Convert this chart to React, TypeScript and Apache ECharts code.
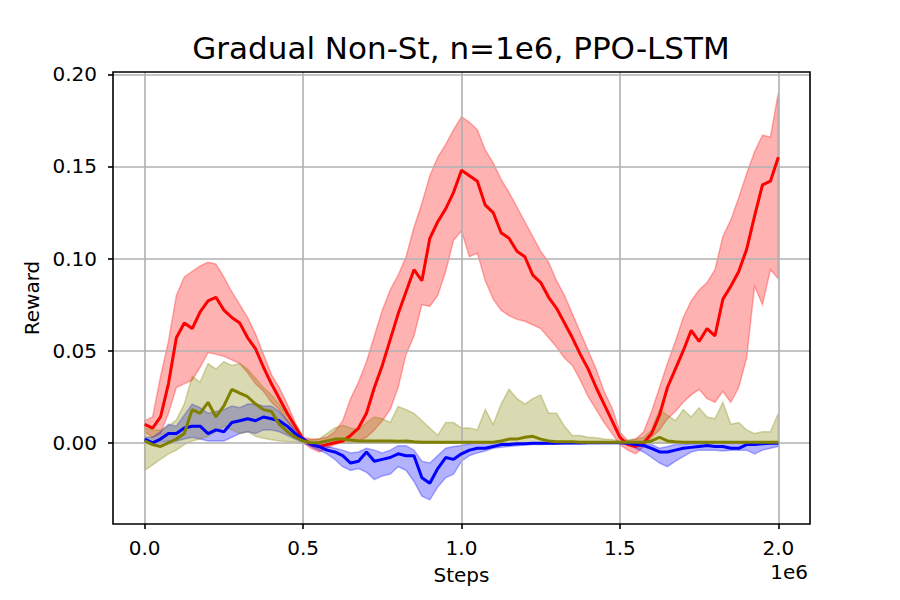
import React, { useEffect, useRef } from 'react';
import * as echarts from 'echarts';

// x positions (in units of 1e6 steps)
const X = [
  0, 0.025, 0.05, 0.075, 0.1, 0.125, 0.15, 0.175, 0.2, 0.225,
  0.25, 0.275, 0.3, 0.325, 0.35, 0.375, 0.4, 0.425, 0.45, 0.475,
  0.5, 0.525, 0.55, 0.575, 0.6, 0.625, 0.65, 0.675, 0.7, 0.725,
  0.75, 0.775, 0.8, 0.825, 0.85, 0.875, 0.9, 0.925, 0.95, 0.975,
  1.0, 1.025, 1.05, 1.075, 1.1, 1.125, 1.15, 1.175, 1.2, 1.225,
  1.25, 1.275, 1.3, 1.325, 1.35, 1.375, 1.4, 1.425, 1.45, 1.475,
  1.5, 1.525, 1.55, 1.575, 1.6, 1.625, 1.65, 1.675, 1.7, 1.725,
  1.75, 1.775, 1.8, 1.825, 1.85, 1.875, 1.9, 1.925, 1.95, 1.975,
  2.0,
];

// red method: mean, upper, lower
const RED_MEAN = [
  0.010, 0.008, 0.014, 0.032, 0.057, 0.065, 0.062, 0.071, 0.077, 0.079,
  0.072, 0.068, 0.065, 0.057, 0.051, 0.041, 0.032, 0.024, 0.016, 0.009,
  0.002, -0.001, -0.002, -0.001, 0.000, 0.001, 0.004, 0.008, 0.016, 0.030,
  0.042, 0.056, 0.070, 0.082, 0.094, 0.088, 0.111, 0.120, 0.127, 0.136,
  0.148, 0.145, 0.142, 0.129, 0.125, 0.114, 0.111, 0.104, 0.101, 0.091,
  0.087, 0.079, 0.073, 0.065, 0.057, 0.048, 0.040, 0.030, 0.021, 0.012,
  0.003, -0.001, -0.002, 0.000, 0.005, 0.015, 0.030, 0.040, 0.050, 0.061,
  0.055, 0.062, 0.058, 0.078, 0.085, 0.093, 0.105, 0.123, 0.140, 0.142,
  0.155,
];
const RED_UPPER = [
  0.012, 0.014, 0.036, 0.055, 0.080, 0.090, 0.093, 0.096, 0.098, 0.097,
  0.090, 0.082, 0.075, 0.068, 0.059, 0.048, 0.037, 0.030, 0.021, 0.011,
  0.003, 0.002, 0.002, 0.003, 0.006, 0.012, 0.024, 0.033, 0.044, 0.058,
  0.072, 0.083, 0.091, 0.101, 0.117, 0.130, 0.145, 0.155, 0.162, 0.170,
  0.177, 0.174, 0.170, 0.159, 0.152, 0.143, 0.136, 0.128, 0.120, 0.112,
  0.104, 0.098, 0.088, 0.080, 0.070, 0.060, 0.050, 0.040, 0.028, 0.019,
  0.006, 0.001, 0.002, 0.006, 0.017, 0.030, 0.043, 0.055, 0.068, 0.077,
  0.083, 0.087, 0.094, 0.112, 0.121, 0.133, 0.146, 0.158, 0.167, 0.166,
  0.190,
];
const RED_LOWER = [
  0.006, 0.003, 0.005, 0.016, 0.030, 0.032, 0.034, 0.041, 0.049, 0.048,
  0.047, 0.045, 0.043, 0.038, 0.032, 0.028, 0.022, 0.018, 0.012, 0.006,
  0.000, -0.003, -0.005, -0.003, -0.001, 0.000, 0.000, 0.001, 0.003, 0.007,
  0.012, 0.018, 0.030, 0.048, 0.058, 0.075, 0.074, 0.080, 0.093, 0.110,
  0.115, 0.101, 0.103, 0.088, 0.078, 0.072, 0.069, 0.067, 0.066, 0.064,
  0.062, 0.057, 0.052, 0.046, 0.042, 0.034, 0.025, 0.018, 0.011, 0.005,
  -0.001, -0.004, -0.006, -0.002, 0.003, 0.007, 0.013, 0.017, 0.022, 0.026,
  0.029, 0.024, 0.022, 0.028, 0.022, 0.030, 0.046, 0.085, 0.075, 0.094,
  0.089,
];

// blue method
const BLUE_MEAN = [
  0.002, 0.000, 0.002, 0.005, 0.005, 0.008, 0.009, 0.009, 0.005, 0.007,
  0.006, 0.011, 0.012, 0.013, 0.012, 0.014, 0.013, 0.012, 0.009, 0.005,
  0.002, -0.001, -0.002, -0.004, -0.005, -0.007, -0.011, -0.010, -0.005, -0.010,
  -0.009, -0.008, -0.006, -0.007, -0.007, -0.019, -0.022, -0.014, -0.008, -0.009,
  -0.006, -0.004, -0.003, -0.003, -0.002, -0.001, -0.001, -0.0005, -0.0005, -0.0003,
  -0.0002, -0.0002, -0.0002, -0.0001, -0.0001, -0.0001, 0.000, 0.000, 0.000, 0.000,
  0.000, -0.0003, -0.001, -0.0015, -0.003, -0.005, -0.005, -0.004, -0.003, -0.0025,
  -0.002, -0.0015, -0.002, -0.002, -0.003, -0.003, -0.001, -0.001, -0.0005, -0.0003,
  -0.0003,
];
const BLUE_UPPER = [
  0.003, 0.003, 0.006, 0.010, 0.009, 0.015, 0.021, 0.019, 0.016, 0.017,
  0.018, 0.020, 0.019, 0.021, 0.021, 0.020, 0.020, 0.017, 0.012, 0.007,
  0.002, 0.000, -0.001, -0.002, -0.003, -0.004, -0.0055, -0.005, -0.003, -0.004,
  -0.0055, -0.004, -0.0016, -0.0016, -0.004, -0.010, -0.011, -0.007, -0.003, -0.002,
  -0.0015, -0.0005, 0.000, 0.000, 0.000, 0.000, 0.000, 0.000, 0.000, 0.000,
  0.000, 0.000, 0.000, 0.000, 0.000, 0.000, 0.000, 0.000, 0.000, 0.000,
  0.000, 0.000, 0.000, -0.001, -0.001, -0.003, -0.002, -0.001, -0.001, -0.0005,
  -0.0005, 0.000, 0.000, 0.000, 0.000, 0.000, 0.000, 0.000, 0.000, 0.000,
  0.000,
];
const BLUE_LOWER = [
  0.000, -0.001, 0.000, 0.001, 0.001, 0.002, 0.003, 0.002, 0.001, 0.001,
  0.001, 0.003, 0.005, 0.006, 0.005, 0.007, 0.007, 0.006, 0.004, 0.002,
  0.000, -0.002, -0.004, -0.006, -0.009, -0.013, -0.015, -0.014, -0.016, -0.020,
  -0.018, -0.017, -0.013, -0.015, -0.021, -0.029, -0.031, -0.024, -0.019, -0.017,
  -0.010, -0.007, -0.0055, -0.0045, -0.003, -0.0025, -0.002, -0.0016, -0.0012, -0.001,
  -0.001, -0.0008, -0.0007, -0.0006, -0.0005, -0.0005, -0.0004, -0.0004, -0.0003, -0.0003,
  -0.0003, -0.001, -0.003, -0.005, -0.008, -0.011, -0.013, -0.010, -0.0075, -0.005,
  -0.004, -0.004, -0.004, -0.0045, -0.004, -0.004, -0.004, -0.006, -0.004, -0.003,
  -0.002,
];

// olive method
const OLIVE_MEAN = [
  0.001, -0.001, -0.002, 0.000, 0.002, 0.005, 0.018, 0.016, 0.022, 0.014,
  0.020, 0.029, 0.027, 0.025, 0.021, 0.018, 0.017, 0.010, 0.006, 0.003,
  0.001, 0.000, 0.000, 0.001, 0.002, 0.002, 0.0015, 0.001, 0.001, 0.001,
  0.001, 0.001, 0.0008, 0.001, 0.0005, 0.0003, 0.0003, 0.0003, 0.0003, 0.0003,
  0.0003, 0.0003, 0.0003, 0.0003, 0.0003, 0.001, 0.002, 0.002, 0.003, 0.0035,
  0.002, 0.001, 0.0005, 0.0005, 0.0005, 0.0003, 0.0003, 0.0003, 0.0003, 0.0003,
  0.0003, 0.0003, 0.0003, 0.0003, 0.001, 0.003, 0.001, 0.0005, 0.0003, 0.0003,
  0.0003, 0.0003, 0.0003, 0.0003, 0.0003, 0.0003, 0.0003, 0.0003, 0.0003, 0.0003,
  0.0003,
];
const OLIVE_UPPER = [
  0.008, 0.007, 0.007, 0.009, 0.0125, 0.021, 0.036, 0.033, 0.043, 0.040,
  0.044, 0.042, 0.043, 0.040, 0.035, 0.030, 0.026, 0.021, 0.015, 0.009,
  0.002, 0.0015, 0.002, 0.005, 0.008, 0.0095, 0.008, 0.007, 0.011, 0.014,
  0.013, 0.011, 0.0197, 0.018, 0.016, 0.012, 0.008, 0.004, 0.011, 0.011,
  0.008, 0.008, 0.007, 0.018, 0.010, 0.021, 0.029, 0.024, 0.021, 0.024,
  0.026, 0.016, 0.016, 0.009, 0.004, 0.004, 0.003, 0.0027, 0.002, 0.0018,
  0.001, 0.0015, 0.002, 0.003, 0.007, 0.018, 0.015, 0.012, 0.018, 0.014,
  0.019, 0.014, 0.013, 0.022, 0.010, 0.011, 0.007, 0.005, 0.006, 0.006,
  0.016,
];
const OLIVE_LOWER = [
  -0.015, -0.012, -0.009, -0.006, -0.004, -0.001, 0.001, 0.002, 0.0035, 0.006,
  0.009, 0.007, 0.005, 0.006, 0.0035, 0.0025, 0.0016, 0.001, 0.0007, 0.0003,
  -0.0003, -0.0003, -0.0003, -0.0003, -0.0003, -0.0003, -0.0003, -0.0003, -0.0003, -0.0003,
  -0.0003, -0.0003, -0.0003, -0.0003, -0.0003, -0.0003, -0.0003, -0.0003, -0.0003, -0.0003,
  -0.0003, -0.0003, -0.0003, -0.0003, -0.0003, -0.0003, -0.0003, -0.0003, -0.0003, -0.0003,
  -0.0003, -0.0003, -0.0003, -0.0003, -0.0003, -0.0003, -0.0003, -0.0003, -0.0003, -0.0003,
  -0.0003, -0.0003, -0.0003, -0.0003, -0.0003, -0.0003, -0.0003, -0.0003, -0.0003, -0.0003,
  -0.0003, -0.0003, -0.0003, -0.0003, -0.0003, -0.0003, -0.0003, -0.0003, -0.0003, -0.0003,
  -0.0003,
];

const X_TICKS = [0, 0.5, 1.0, 1.5, 2.0];
const Y_TICKS = [0, 0.05, 0.1, 0.15, 0.2];

const TITLE = 'Gradual Non-St, n=1e6, PPO-LSTM';
const X_NAME = 'Steps';
const Y_NAME = 'Reward';
const X_OFFSET_TEXT = '1e6';

const FONT = 'DejaVu Sans';

function pairs(ys: number[]) {
  return X.map((x, i) => [x, ys[i]]);
}

function band(name: string, lower: number[], upper: number[], rgb: string) {
  return {
    name,
    type: 'custom',
    coordinateSystem: 'cartesian2d',
    silent: true,
    z: 1,
    data: [[0, 0]],
    encode: { x: 0, y: 1 },
    renderItem: (_params: any, api: any) => {
      const pts: number[][] = [];
      for (let i = 0; i < X.length; i++) pts.push(api.coord([X[i], upper[i]]));
      for (let i = X.length - 1; i >= 0; i--) pts.push(api.coord([X[i], lower[i]]));
      return {
        type: 'polygon',
        shape: { points: pts },
        style: {
          fill: `rgba(${rgb},0.3)`,
          stroke: `rgba(${rgb},0.3)`,
          lineWidth: 1.5,
        },
      };
    },
  };
}

function line(name: string, ys: number[], color: string) {
  return {
    name,
    type: 'line',
    data: pairs(ys),
    showSymbol: false,
    symbol: 'none',
    silent: true,
    z: 3,
    lineStyle: { color, width: 3 },
    itemStyle: { color },
  };
}

export default function App() {
  const ref = useRef<HTMLDivElement>(null);

  useEffect(() => {
    if (!ref.current) return;
    const chart = echarts.init(ref.current, undefined, { renderer: 'svg' });
    const axisText = { color: '#000', fontFamily: FONT, fontSize: 20 };
    chart.setOption({
      animation: false,
      backgroundColor: '#fff',
      title: {
        text: TITLE,
        left: 461,
        top: 32,
        padding: 0,
        textAlign: 'center',
        textStyle: { fontFamily: FONT, fontSize: 31, fontWeight: 'normal', color: '#000' },
      },
      grid: {
        left: 113,
        right: 90,
        top: 72,
        bottom: 76,
        show: true,
        borderColor: '#000',
        borderWidth: 1.6,
        backgroundColor: 'transparent',
        z: 5,
      },
      xAxis: {
        type: 'value',
        position: 'bottom',
        min: -0.1,
        max: 2.1,
        z: 2,
        name: X_NAME,
        nameLocation: 'middle',
        nameGap: 41,
        nameTextStyle: axisText,
        axisLine: { show: false, onZero: false },
        axisTick: {
          show: true,
          length: 5,
          customValues: X_TICKS,
          lineStyle: { color: '#000', width: 1.6 },
        },
        axisLabel: {
          ...axisText,
          margin: 14,
          customValues: X_TICKS,
          formatter: (v: number) => v.toFixed(1),
        },
        splitLine: { show: true, lineStyle: { color: '#b0b0b0', width: 1.6 } },
      },
      yAxis: {
        type: 'value',
        position: 'left',
        min: -0.0441,
        max: 0.2013,
        z: 2,
        name: Y_NAME,
        nameLocation: 'middle',
        nameRotate: 90,
        nameGap: 68,
        nameTextStyle: axisText,
        axisLine: { show: false, onZero: false },
        axisTick: {
          show: true,
          length: 5,
          customValues: Y_TICKS,
          lineStyle: { color: '#000', width: 1.6 },
        },
        axisLabel: {
          ...axisText,
          margin: 16,
          customValues: Y_TICKS,
          formatter: (v: number) => v.toFixed(2),
        },
        splitLine: { show: true, lineStyle: { color: '#b0b0b0', width: 1.6 } },
      },
      graphic: [
        {
          type: 'text',
          x: 808,
          y: 572,
          style: {
            text: X_OFFSET_TEXT,
            fontFamily: FONT,
            fontSize: 20,
            fill: '#000',
            textAlign: 'right',
            textVerticalAlign: 'middle',
          },
        },
      ],
      series: [
        band('red band', RED_LOWER, RED_UPPER, '255,0,0'),
        line('red', RED_MEAN, '#ff0000'),
        band('blue band', BLUE_LOWER, BLUE_UPPER, '0,0,255'),
        line('blue', BLUE_MEAN, '#0000ff'),
        band('olive band', OLIVE_LOWER, OLIVE_UPPER, '128,128,0'),
        line('olive', OLIVE_MEAN, '#808000'),
      ],
    });
    return () => chart.dispose();
  }, []);

  return (
    <div
      ref={ref}
      style={{ position: 'fixed', left: 0, top: 0, width: 900, height: 600, background: '#fff' }}
    />
  );
}
